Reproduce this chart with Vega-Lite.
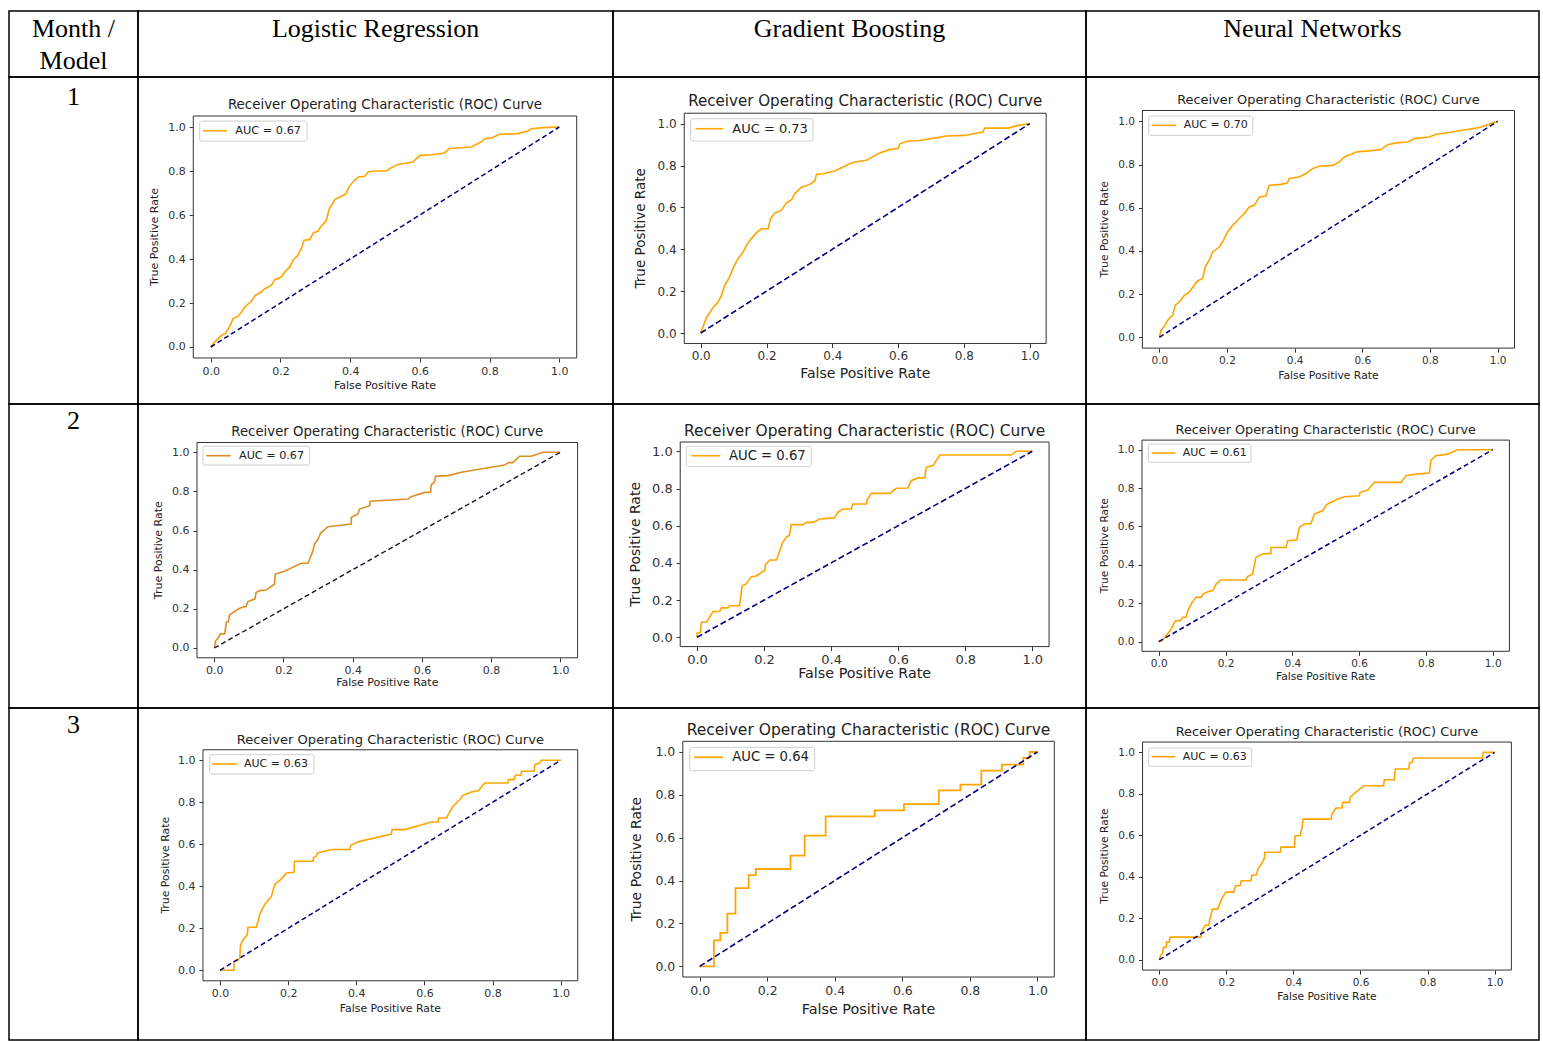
{
"$schema": "https://vega.github.io/schema/vega-lite/v6.json",
"background": "white",
"padding": {"left": 8, "top": 10, "right": 0, "bottom": 0},
"columns": 4,
"spacing": 0,
"bounds": "flush",
"align": "each",
"datasets": {"diag": [{"fpr": 0, "tpr": 0}, {"fpr": 1, "tpr": 1}]},
"config": {
  "view": {"stroke": "#000", "strokeWidth": 1.5},
  "concat": {"spacing": 0},
  "axis": {"labelFont": "DejaVu Sans", "labelColor": "#333", "tickColor": "#333", "domain": false, "grid": false, "tickSize": 4, "labelPadding": 3, "labelFlush": false, "labelOverlap": false, "labelBound": false, "tickWidth": 1},
  "text": {"font": "DejaVu Sans", "color": "#222"}
},
"concat": [
  {"width": 129, "height": 66, "data": {"values": [{"header": "Month /\nModel"}]},
   "mark": {"type": "text", "font": "Liberation Serif", "fontSize": 26, "lineBreak": "\n", "lineHeight": 32, "align": "center", "baseline": "alphabetic", "color": "#000"},
   "encoding": {"text": {"field": "header"}, "x": {"datum": 0.5, "type": "quantitative", "scale": {"domain": [0, 1]}, "axis": null}, "y": {"datum": 0.606, "type": "quantitative", "scale": {"domain": [0, 1]}, "axis": null}}},
  {"width": 475, "height": 66, "data": {"values": [{"header": "Logistic Regression"}]},
   "mark": {"type": "text", "font": "Liberation Serif", "fontSize": 26, "align": "center", "baseline": "alphabetic", "color": "#000"},
   "encoding": {"text": {"field": "header"}, "x": {"datum": 0.5, "type": "quantitative", "scale": {"domain": [0, 1]}, "axis": null}, "y": {"datum": 0.606, "type": "quantitative", "scale": {"domain": [0, 1]}, "axis": null}}},
  {"width": 473, "height": 66, "data": {"values": [{"header": "Gradient Boosting"}]},
   "mark": {"type": "text", "font": "Liberation Serif", "fontSize": 26, "align": "center", "baseline": "alphabetic", "color": "#000"},
   "encoding": {"text": {"field": "header"}, "x": {"datum": 0.5, "type": "quantitative", "scale": {"domain": [0, 1]}, "axis": null}, "y": {"datum": 0.606, "type": "quantitative", "scale": {"domain": [0, 1]}, "axis": null}}},
  {"width": 453, "height": 66, "data": {"values": [{"header": "Neural Networks"}]},
   "mark": {"type": "text", "font": "Liberation Serif", "fontSize": 26, "align": "center", "baseline": "alphabetic", "color": "#000"},
   "encoding": {"text": {"field": "header"}, "x": {"datum": 0.5, "type": "quantitative", "scale": {"domain": [0, 1]}, "axis": null}, "y": {"datum": 0.606, "type": "quantitative", "scale": {"domain": [0, 1]}, "axis": null}}},

  {"width": 129, "height": 327, "data": {"values": [{"month": "1"}]},
   "mark": {"type": "text", "font": "Liberation Serif", "fontSize": 26, "align": "center", "baseline": "alphabetic", "color": "#000"},
   "encoding": {"text": {"field": "month"}, "x": {"datum": 0.5, "type": "quantitative", "scale": {"domain": [0, 1]}, "axis": null}, "y": {"datum": 0.914, "type": "quantitative", "scale": {"domain": [0, 1]}, "axis": null}}},
  {"width": 475, "height": 327, "data": {"values": [{"month": 1, "model": "Logistic Regression", "auc": "AUC = 0.67"}]},
   "layer": [
    {"mark": {"type": "rect", "fill": "white", "stroke": "#333", "strokeWidth": 1},
     "encoding": {"x": {"datum": -0.05, "type": "quantitative", "scale": {"domain": [-0.2086, 1.1541], "nice": false, "zero": false}}, "x2": {"datum": 1.05},
                  "y": {"datum": -0.05, "type": "quantitative", "scale": {"domain": [-0.2591, 1.2273], "nice": false, "zero": false}}, "y2": {"datum": 1.05}}},
    {"data": {"values": [{"fpr":0,"tpr":0},{"fpr":0.007,"tpr":0.015},{"fpr":0.016,"tpr":0.03},{"fpr":0.031,"tpr":0.053},{"fpr":0.042,"tpr":0.061},{"fpr":0.054,"tpr":0.091},{"fpr":0.064,"tpr":0.129},{"fpr":0.078,"tpr":0.139},{"fpr":0.088,"tpr":0.159},{"fpr":0.098,"tpr":0.182},{"fpr":0.117,"tpr":0.209},{"fpr":0.128,"tpr":0.235},{"fpr":0.145,"tpr":0.25},{"fpr":0.155,"tpr":0.265},{"fpr":0.174,"tpr":0.28},{"fpr":0.184,"tpr":0.306},{"fpr":0.203,"tpr":0.318},{"fpr":0.212,"tpr":0.341},{"fpr":0.227,"tpr":0.364},{"fpr":0.237,"tpr":0.397},{"fpr":0.25,"tpr":0.417},{"fpr":0.26,"tpr":0.447},{"fpr":0.268,"tpr":0.485},{"fpr":0.284,"tpr":0.488},{"fpr":0.294,"tpr":0.518},{"fpr":0.308,"tpr":0.527},{"fpr":0.315,"tpr":0.545},{"fpr":0.332,"tpr":0.576},{"fpr":0.339,"tpr":0.624},{"fpr":0.356,"tpr":0.67},{"fpr":0.375,"tpr":0.685},{"fpr":0.389,"tpr":0.697},{"fpr":0.396,"tpr":0.727},{"fpr":0.408,"tpr":0.75},{"fpr":0.423,"tpr":0.773},{"fpr":0.442,"tpr":0.776},{"fpr":0.451,"tpr":0.795},{"fpr":0.466,"tpr":0.8},{"fpr":0.504,"tpr":0.8},{"fpr":0.518,"tpr":0.815},{"fpr":0.537,"tpr":0.83},{"fpr":0.58,"tpr":0.841},{"fpr":0.599,"tpr":0.87},{"fpr":0.633,"tpr":0.874},{"fpr":0.671,"tpr":0.882},{"fpr":0.685,"tpr":0.902},{"fpr":0.748,"tpr":0.909},{"fpr":0.776,"tpr":0.932},{"fpr":0.786,"tpr":0.947},{"fpr":0.805,"tpr":0.95},{"fpr":0.829,"tpr":0.967},{"fpr":0.881,"tpr":0.97},{"fpr":0.91,"tpr":0.982},{"fpr":0.92,"tpr":0.992},{"fpr":0.954,"tpr":0.997},{"fpr":1,"tpr":1}]},
     "mark": {"type": "line", "color": "#FFA500", "strokeWidth": 1.6},
     "encoding": {"x": {"field": "fpr", "type": "quantitative", "axis": {"values": [0, 0.2, 0.4, 0.6, 0.8, 1], "format": ".1f", "offset": -46, "labelFontSize": 11, "title": null}}, "y": {"field": "tpr", "type": "quantitative", "axis": {"values": [0, 0.2, 0.4, 0.6, 0.8, 1], "format": ".1f", "offset": -55.3, "labelFontSize": 11, "labelPadding": 4, "title": null}}, "order": {"value": null}}},
    {"data": {"name": "diag"}, "mark": {"type": "line", "color": "#000080", "strokeWidth": 1.5, "strokeDash": [5, 3]},
     "encoding": {"x": {"field": "fpr", "type": "quantitative"}, "y": {"field": "tpr", "type": "quantitative"}}},
    {"mark": {"type": "rect", "fill": "white", "stroke": "#cfcfcf", "strokeWidth": 1, "cornerRadius": 2},
     "encoding": {"x": {"datum": -0.0316}, "x2": {"datum": 0.2763}, "y": {"datum": 1.027}, "y2": {"datum": 0.936}}},
    {"mark": {"type": "rule", "color": "#FFA500", "strokeWidth": 1.6},
     "encoding": {"x": {"datum": -0.0221}, "x2": {"datum": 0.0468}, "y": {"datum": 0.983}}},
    {"mark": {"type": "text", "align": "left", "baseline": "middle", "fontSize": 11.3},
     "encoding": {"text": {"field": "auc"}, "x": {"datum": 0.0706}, "y": {"datum": 0.983}}},
    {"mark": {"type": "text", "align": "center", "baseline": "middle", "fontSize": 13.4},
     "encoding": {"text": {"value": "Receiver Operating Characteristic (ROC) Curve"}, "x": {"datum": 0.5}, "y": {"datum": 1.1}}},
    {"mark": {"type": "text", "align": "center", "baseline": "middle", "fontSize": 11},
     "encoding": {"text": {"value": "False Positive Rate"}, "x": {"datum": 0.5}, "y": {"datum": -0.177}}},
    {"mark": {"type": "text", "align": "center", "baseline": "middle", "angle": 270, "fontSize": 11},
     "encoding": {"text": {"value": "True Positive Rate"}, "x": {"datum": -0.161}, "y": {"datum": 0.5}}}
   ]},
  {"width": 473, "height": 327, "data": {"values": [{"month": 1, "model": "Gradient Boosting", "auc": "AUC = 0.73"}]},
   "layer": [
    {"mark": {"type": "rect", "fill": "white", "stroke": "#333", "strokeWidth": 1},
     "encoding": {"x": {"datum": -0.05, "type": "quantitative", "scale": {"domain": [-0.2666, 1.1711], "nice": false, "zero": false}}, "x2": {"datum": 1.05},
                  "y": {"datum": -0.05, "type": "quantitative", "scale": {"domain": [-0.3392, 1.2231], "nice": false, "zero": false}}, "y2": {"datum": 1.05}}},
    {"data": {"values": [{"fpr":0,"tpr":0},{"fpr":0.007,"tpr":0.029},{"fpr":0.017,"tpr":0.073},{"fpr":0.029,"tpr":0.1},{"fpr":0.037,"tpr":0.121},{"fpr":0.053,"tpr":0.148},{"fpr":0.063,"tpr":0.18},{"fpr":0.073,"tpr":0.228},{"fpr":0.088,"tpr":0.268},{"fpr":0.1,"tpr":0.315},{"fpr":0.113,"tpr":0.355},{"fpr":0.129,"tpr":0.387},{"fpr":0.139,"tpr":0.419},{"fpr":0.154,"tpr":0.451},{"fpr":0.169,"tpr":0.478},{"fpr":0.185,"tpr":0.498},{"fpr":0.205,"tpr":0.498},{"fpr":0.212,"tpr":0.546},{"fpr":0.225,"tpr":0.573},{"fpr":0.245,"tpr":0.586},{"fpr":0.26,"tpr":0.621},{"fpr":0.276,"tpr":0.637},{"fpr":0.286,"tpr":0.666},{"fpr":0.306,"tpr":0.697},{"fpr":0.331,"tpr":0.71},{"fpr":0.347,"tpr":0.726},{"fpr":0.352,"tpr":0.758},{"fpr":0.372,"tpr":0.761},{"fpr":0.407,"tpr":0.774},{"fpr":0.433,"tpr":0.793},{"fpr":0.453,"tpr":0.809},{"fpr":0.468,"tpr":0.817},{"fpr":0.504,"tpr":0.825},{"fpr":0.524,"tpr":0.844},{"fpr":0.544,"tpr":0.86},{"fpr":0.574,"tpr":0.876},{"fpr":0.6,"tpr":0.881},{"fpr":0.605,"tpr":0.904},{"fpr":0.63,"tpr":0.917},{"fpr":0.666,"tpr":0.92},{"fpr":0.706,"tpr":0.93},{"fpr":0.747,"tpr":0.941},{"fpr":0.802,"tpr":0.944},{"fpr":0.858,"tpr":0.96},{"fpr":0.863,"tpr":0.979},{"fpr":0.934,"tpr":0.979},{"fpr":0.965,"tpr":0.992},{"fpr":1,"tpr":1}]},
     "mark": {"type": "line", "color": "#FFA500", "strokeWidth": 1.6},
     "encoding": {"x": {"field": "fpr", "type": "quantitative", "axis": {"values": [0, 0.2, 0.4, 0.6, 0.8, 1], "format": ".1f", "offset": -60.5, "labelFontSize": 12, "title": null}}, "y": {"field": "tpr", "type": "quantitative", "axis": {"values": [0, 0.2, 0.4, 0.6, 0.8, 1], "format": ".1f", "offset": -71.2, "labelFontSize": 12, "labelPadding": 4, "title": null}}, "order": {"value": null}}},
    {"data": {"name": "diag"}, "mark": {"type": "line", "color": "#000080", "strokeWidth": 1.6, "strokeDash": [6, 3]},
     "encoding": {"x": {"field": "fpr", "type": "quantitative"}, "y": {"field": "tpr", "type": "quantitative"}}},
    {"mark": {"type": "rect", "fill": "white", "stroke": "#cfcfcf", "strokeWidth": 1, "cornerRadius": 2},
     "encoding": {"x": {"datum": -0.0304}, "x2": {"datum": 0.3413}, "y": {"datum": 1.0239}, "y2": {"datum": 0.9173}}},
    {"mark": {"type": "rule", "color": "#FFA500", "strokeWidth": 1.6},
     "encoding": {"x": {"datum": -0.0152}, "x2": {"datum": 0.0678}, "y": {"datum": 0.9761}}},
    {"mark": {"type": "text", "align": "left", "baseline": "middle", "fontSize": 13},
     "encoding": {"text": {"field": "auc"}, "x": {"datum": 0.096}, "y": {"datum": 0.9761}}},
    {"mark": {"type": "text", "align": "center", "baseline": "middle", "fontSize": 15.1},
     "encoding": {"text": {"value": "Receiver Operating Characteristic (ROC) Curve"}, "x": {"datum": 0.5}, "y": {"datum": 1.1085}}},
    {"mark": {"type": "text", "align": "center", "baseline": "middle", "fontSize": 14},
     "encoding": {"text": {"value": "False Positive Rate"}, "x": {"datum": 0.5}, "y": {"datum": -0.1945}}},
    {"mark": {"type": "text", "align": "center", "baseline": "middle", "angle": 270, "fontSize": 13.5},
     "encoding": {"text": {"value": "True Positive Rate"}, "x": {"datum": -0.1824}, "y": {"datum": 0.5}}}
   ]},
  {"width": 453, "height": 327, "data": {"values": [{"month": 1, "model": "Neural Networks", "auc": "AUC = 0.70"}]},
   "layer": [
    {"mark": {"type": "rect", "fill": "white", "stroke": "#333", "strokeWidth": 1},
     "encoding": {"x": {"datum": -0.05, "type": "quantitative", "scale": {"domain": [-0.2167, 1.1224], "nice": false, "zero": false}}, "x2": {"datum": 1.05},
                  "y": {"datum": -0.05, "type": "quantitative", "scale": {"domain": [-0.3088, 1.2051], "nice": false, "zero": false}}, "y2": {"datum": 1.05}}},
    {"data": {"values": [{"fpr":0,"tpr":0},{"fpr":0.005,"tpr":0.032},{"fpr":0.015,"tpr":0.051},{"fpr":0.025,"tpr":0.079},{"fpr":0.039,"tpr":0.102},{"fpr":0.047,"tpr":0.148},{"fpr":0.059,"tpr":0.164},{"fpr":0.074,"tpr":0.194},{"fpr":0.089,"tpr":0.21},{"fpr":0.103,"tpr":0.241},{"fpr":0.113,"tpr":0.261},{"fpr":0.128,"tpr":0.272},{"fpr":0.136,"tpr":0.326},{"fpr":0.148,"tpr":0.36},{"fpr":0.158,"tpr":0.395},{"fpr":0.177,"tpr":0.418},{"fpr":0.187,"tpr":0.441},{"fpr":0.202,"tpr":0.488},{"fpr":0.217,"tpr":0.519},{"fpr":0.236,"tpr":0.549},{"fpr":0.251,"tpr":0.573},{"fpr":0.266,"tpr":0.603},{"fpr":0.281,"tpr":0.611},{"fpr":0.296,"tpr":0.65},{"fpr":0.315,"tpr":0.654},{"fpr":0.325,"tpr":0.704},{"fpr":0.36,"tpr":0.708},{"fpr":0.379,"tpr":0.715},{"fpr":0.384,"tpr":0.735},{"fpr":0.414,"tpr":0.742},{"fpr":0.433,"tpr":0.758},{"fpr":0.453,"tpr":0.781},{"fpr":0.473,"tpr":0.792},{"fpr":0.512,"tpr":0.796},{"fpr":0.532,"tpr":0.812},{"fpr":0.547,"tpr":0.835},{"fpr":0.567,"tpr":0.847},{"fpr":0.581,"tpr":0.858},{"fpr":0.621,"tpr":0.863},{"fpr":0.655,"tpr":0.869},{"fpr":0.675,"tpr":0.892},{"fpr":0.7,"tpr":0.9},{"fpr":0.734,"tpr":0.904},{"fpr":0.754,"tpr":0.92},{"fpr":0.798,"tpr":0.927},{"fpr":0.818,"tpr":0.94},{"fpr":0.847,"tpr":0.946},{"fpr":0.877,"tpr":0.954},{"fpr":0.906,"tpr":0.961},{"fpr":0.946,"tpr":0.971},{"fpr":0.98,"tpr":0.989},{"fpr":1,"tpr":1}]},
     "mark": {"type": "line", "color": "#FFA500", "strokeWidth": 1.6},
     "encoding": {"x": {"field": "fpr", "type": "quantitative", "axis": {"values": [0, 0.2, 0.4, 0.6, 0.8, 1], "format": ".1f", "offset": -55.9, "labelFontSize": 10.5, "title": null}}, "y": {"field": "tpr", "type": "quantitative", "axis": {"values": [0, 0.2, 0.4, 0.6, 0.8, 1], "format": ".1f", "offset": -56.4, "labelFontSize": 10.5, "labelPadding": 4, "title": null}}, "order": {"value": null}}},
    {"data": {"name": "diag"}, "mark": {"type": "line", "color": "#000080", "strokeWidth": 1.5, "strokeDash": [5, 3]},
     "encoding": {"x": {"field": "fpr", "type": "quantitative"}, "y": {"field": "tpr", "type": "quantitative"}}},
    {"mark": {"type": "rect", "fill": "white", "stroke": "#cfcfcf", "strokeWidth": 1, "cornerRadius": 2},
     "encoding": {"x": {"datum": -0.0313}, "x2": {"datum": 0.2761}, "y": {"datum": 1.0245}, "y2": {"datum": 0.9352}}},
    {"mark": {"type": "rule", "color": "#FFA500", "strokeWidth": 1.6},
     "encoding": {"x": {"datum": -0.0225}, "x2": {"datum": 0.0494}, "y": {"datum": 0.9815}}},
    {"mark": {"type": "text", "align": "left", "baseline": "middle", "fontSize": 11},
     "encoding": {"text": {"field": "auc"}, "x": {"datum": 0.0721}, "y": {"datum": 0.9815}}},
    {"mark": {"type": "text", "align": "center", "baseline": "middle", "fontSize": 12.9},
     "encoding": {"text": {"value": "Receiver Operating Characteristic (ROC) Curve"}, "x": {"datum": 0.5}, "y": {"datum": 1.1}}},
    {"mark": {"type": "text", "align": "center", "baseline": "middle", "fontSize": 10.8},
     "encoding": {"text": {"value": "False Positive Rate"}, "x": {"datum": 0.5}, "y": {"datum": -0.1792}}},
    {"mark": {"type": "text", "align": "center", "baseline": "middle", "angle": 270, "fontSize": 10.8},
     "encoding": {"text": {"value": "True Positive Rate"}, "x": {"datum": -0.1605}, "y": {"datum": 0.5}}}
   ]},

  {"width": 129, "height": 304, "data": {"values": [{"month": "2"}]},
   "mark": {"type": "text", "font": "Liberation Serif", "fontSize": 26, "align": "center", "baseline": "alphabetic", "color": "#000"},
   "encoding": {"text": {"field": "month"}, "x": {"datum": 0.5, "type": "quantitative", "scale": {"domain": [0, 1]}, "axis": null}, "y": {"datum": 0.918, "type": "quantitative", "scale": {"domain": [0, 1]}, "axis": null}}},
  {"width": 475, "height": 304, "data": {"values": [{"month": 2, "model": "Logistic Regression", "auc": "AUC = 0.67"}]},
   "layer": [
    {"mark": {"type": "rect", "fill": "white", "stroke": "#333", "strokeWidth": 1},
     "encoding": {"x": {"datum": -0.05, "type": "quantitative", "scale": {"domain": [-0.2205, 1.1523], "nice": false, "zero": false}}, "x2": {"datum": 1.05},
                  "y": {"datum": -0.05, "type": "quantitative", "scale": {"domain": [-0.3066, 1.2468], "nice": false, "zero": false}}, "y2": {"datum": 1.05}}},
    {"data": {"values": [{"fpr":0,"tpr":0},{"fpr":0.004,"tpr":0.037},{"fpr":0.011,"tpr":0.051},{"fpr":0.018,"tpr":0.072},{"fpr":0.03,"tpr":0.072},{"fpr":0.035,"tpr":0.131},{"fpr":0.041,"tpr":0.136},{"fpr":0.044,"tpr":0.169},{"fpr":0.059,"tpr":0.187},{"fpr":0.073,"tpr":0.203},{"fpr":0.092,"tpr":0.213},{"fpr":0.097,"tpr":0.237},{"fpr":0.117,"tpr":0.25},{"fpr":0.121,"tpr":0.284},{"fpr":0.131,"tpr":0.293},{"fpr":0.15,"tpr":0.296},{"fpr":0.174,"tpr":0.327},{"fpr":0.176,"tpr":0.378},{"fpr":0.203,"tpr":0.392},{"fpr":0.251,"tpr":0.433},{"fpr":0.271,"tpr":0.433},{"fpr":0.285,"tpr":0.497},{"fpr":0.29,"tpr":0.532},{"fpr":0.3,"tpr":0.557},{"fpr":0.307,"tpr":0.586},{"fpr":0.328,"tpr":0.62},{"fpr":0.396,"tpr":0.634},{"fpr":0.396,"tpr":0.668},{"fpr":0.415,"tpr":0.685},{"fpr":0.42,"tpr":0.71},{"fpr":0.449,"tpr":0.727},{"fpr":0.451,"tpr":0.75},{"fpr":0.56,"tpr":0.761},{"fpr":0.569,"tpr":0.773},{"fpr":0.608,"tpr":0.795},{"fpr":0.625,"tpr":0.795},{"fpr":0.627,"tpr":0.833},{"fpr":0.637,"tpr":0.85},{"fpr":0.639,"tpr":0.877},{"fpr":0.675,"tpr":0.881},{"fpr":0.714,"tpr":0.898},{"fpr":0.839,"tpr":0.935},{"fpr":0.851,"tpr":0.947},{"fpr":0.863,"tpr":0.947},{"fpr":0.882,"tpr":0.98},{"fpr":0.916,"tpr":0.98},{"fpr":0.95,"tpr":1},{"fpr":1,"tpr":1}]},
     "mark": {"type": "line", "color": "#DE8E22", "strokeWidth": 1.6},
     "encoding": {"x": {"field": "fpr", "type": "quantitative", "axis": {"values": [0, 0.2, 0.4, 0.6, 0.8, 1], "format": ".1f", "offset": -50.2, "labelFontSize": 11, "title": null}}, "y": {"field": "tpr", "type": "quantitative", "axis": {"values": [0, 0.2, 0.4, 0.6, 0.8, 1], "format": ".1f", "offset": -59, "labelFontSize": 11, "labelPadding": 4, "title": null}}, "order": {"value": null}}},
    {"data": {"name": "diag"}, "mark": {"type": "line", "color": "#15152e", "strokeWidth": 1.4, "strokeDash": [5, 3]},
     "encoding": {"x": {"field": "fpr", "type": "quantitative"}, "y": {"field": "tpr", "type": "quantitative"}}},
    {"mark": {"type": "rect", "fill": "white", "stroke": "#cfcfcf", "strokeWidth": 1, "cornerRadius": 2},
     "encoding": {"x": {"datum": -0.0327}, "x2": {"datum": 0.2757}, "y": {"datum": 1.0307}, "y2": {"datum": 0.9351}}},
    {"mark": {"type": "rule", "color": "#DE8E22", "strokeWidth": 1.6},
     "encoding": {"x": {"datum": -0.0231}, "x2": {"datum": 0.0474}, "y": {"datum": 0.9826}}},
    {"mark": {"type": "text", "align": "left", "baseline": "middle", "fontSize": 11.2},
     "encoding": {"text": {"field": "auc"}, "x": {"datum": 0.0714}, "y": {"datum": 0.9826}}},
    {"mark": {"type": "text", "align": "center", "baseline": "middle", "fontSize": 13.3},
     "encoding": {"text": {"value": "Receiver Operating Characteristic (ROC) Curve"}, "x": {"datum": 0.5}, "y": {"datum": 1.1022}}},
    {"mark": {"type": "text", "align": "center", "baseline": "middle", "fontSize": 11},
     "encoding": {"text": {"value": "False Positive Rate"}, "x": {"datum": 0.5}, "y": {"datum": -0.1804}}},
    {"mark": {"type": "text", "align": "center", "baseline": "middle", "angle": 270, "fontSize": 11},
     "encoding": {"text": {"value": "True Positive Rate"}, "x": {"datum": -0.1607}, "y": {"datum": 0.5}}}
   ]},
  {"width": 473, "height": 304, "data": {"values": [{"month": 2, "model": "Gradient Boosting", "auc": "AUC = 0.67"}]},
   "layer": [
    {"mark": {"type": "rect", "fill": "white", "stroke": "#333", "strokeWidth": 1},
     "encoding": {"x": {"datum": -0.05, "type": "quantitative", "scale": {"domain": [-0.2505, 1.1602], "nice": false, "zero": false}}, "x2": {"datum": 1.05},
                  "y": {"datum": -0.05, "type": "quantitative", "scale": {"domain": [-0.3801, 1.2543], "nice": false, "zero": false}}, "y2": {"datum": 1.05}}},
    {"data": {"values": [{"fpr":0,"tpr":0},{"fpr":0,"tpr":0.022},{"fpr":0.01,"tpr":0.027},{"fpr":0.013,"tpr":0.081},{"fpr":0.028,"tpr":0.081},{"fpr":0.048,"tpr":0.138},{"fpr":0.068,"tpr":0.14},{"fpr":0.073,"tpr":0.158},{"fpr":0.092,"tpr":0.158},{"fpr":0.097,"tpr":0.17},{"fpr":0.127,"tpr":0.17},{"fpr":0.132,"tpr":0.242},{"fpr":0.135,"tpr":0.278},{"fpr":0.147,"tpr":0.287},{"fpr":0.162,"tpr":0.326},{"fpr":0.177,"tpr":0.33},{"fpr":0.192,"tpr":0.349},{"fpr":0.202,"tpr":0.358},{"fpr":0.204,"tpr":0.389},{"fpr":0.217,"tpr":0.416},{"fpr":0.237,"tpr":0.416},{"fpr":0.247,"tpr":0.466},{"fpr":0.256,"tpr":0.511},{"fpr":0.266,"tpr":0.538},{"fpr":0.276,"tpr":0.55},{"fpr":0.281,"tpr":0.606},{"fpr":0.316,"tpr":0.606},{"fpr":0.326,"tpr":0.618},{"fpr":0.346,"tpr":0.618},{"fpr":0.366,"tpr":0.636},{"fpr":0.41,"tpr":0.642},{"fpr":0.42,"tpr":0.672},{"fpr":0.435,"tpr":0.69},{"fpr":0.46,"tpr":0.69},{"fpr":0.465,"tpr":0.717},{"fpr":0.505,"tpr":0.717},{"fpr":0.507,"tpr":0.738},{"fpr":0.52,"tpr":0.774},{"fpr":0.575,"tpr":0.774},{"fpr":0.594,"tpr":0.801},{"fpr":0.629,"tpr":0.803},{"fpr":0.639,"tpr":0.842},{"fpr":0.659,"tpr":0.857},{"fpr":0.679,"tpr":0.857},{"fpr":0.684,"tpr":0.914},{"fpr":0.704,"tpr":0.923},{"fpr":0.724,"tpr":0.98},{"fpr":0.937,"tpr":0.98},{"fpr":0.952,"tpr":1},{"fpr":1,"tpr":1}]},
     "mark": {"type": "line", "color": "#FFA500", "strokeWidth": 1.6},
     "encoding": {"x": {"field": "fpr", "type": "quantitative", "axis": {"values": [0, 0.2, 0.4, 0.6, 0.8, 1], "format": ".1f", "offset": -61.4, "labelFontSize": 13, "title": null}}, "y": {"field": "tpr", "type": "quantitative", "axis": {"values": [0, 0.2, 0.4, 0.6, 0.8, 1], "format": ".1f", "offset": -67.2, "labelFontSize": 13, "labelPadding": 4, "title": null}}, "order": {"value": null}}},
    {"data": {"name": "diag"}, "mark": {"type": "line", "color": "#000080", "strokeWidth": 1.6, "strokeDash": [6, 3]},
     "encoding": {"x": {"field": "fpr", "type": "quantitative"}, "y": {"field": "tpr", "type": "quantitative"}}},
    {"mark": {"type": "rect", "fill": "white", "stroke": "#cfcfcf", "strokeWidth": 1, "cornerRadius": 2},
     "encoding": {"x": {"datum": -0.0319}, "x2": {"datum": 0.3409}, "y": {"datum": 1.0269}, "y2": {"datum": 0.9172}}},
    {"mark": {"type": "rule", "color": "#FFA500", "strokeWidth": 1.6},
     "encoding": {"x": {"datum": -0.017}, "x2": {"datum": 0.0695}, "y": {"datum": 0.9763}}},
    {"mark": {"type": "text", "align": "left", "baseline": "middle", "fontSize": 13.2},
     "encoding": {"text": {"field": "auc"}, "x": {"datum": 0.0954}, "y": {"datum": 0.9763}}},
    {"mark": {"type": "text", "align": "center", "baseline": "middle", "fontSize": 15.4},
     "encoding": {"text": {"value": "Receiver Operating Characteristic (ROC) Curve"}, "x": {"datum": 0.5}, "y": {"datum": 1.1108}}},
    {"mark": {"type": "text", "align": "center", "baseline": "middle", "fontSize": 14.3},
     "encoding": {"text": {"value": "False Positive Rate"}, "x": {"datum": 0.5}, "y": {"datum": -0.1973}}},
    {"mark": {"type": "text", "align": "center", "baseline": "middle", "angle": 270, "fontSize": 14},
     "encoding": {"text": {"value": "True Positive Rate"}, "x": {"datum": -0.1828}, "y": {"datum": 0.5}}}
   ]},
  {"width": 453, "height": 304, "data": {"values": [{"month": 2, "model": "Neural Networks", "auc": "AUC = 0.61"}]},
   "layer": [
    {"mark": {"type": "rect", "fill": "white", "stroke": "#333", "strokeWidth": 1},
     "encoding": {"x": {"datum": -0.05, "type": "quantitative", "scale": {"domain": [-0.2177, 1.1386], "nice": false, "zero": false}}, "x2": {"datum": 1.05},
                  "y": {"datum": -0.05, "type": "quantitative", "scale": {"domain": [-0.3453, 1.238], "nice": false, "zero": false}}, "y2": {"datum": 1.05}}},
    {"data": {"values": [{"fpr":0,"tpr":0},{"fpr":0.01,"tpr":0.005},{"fpr":0.022,"tpr":0.031},{"fpr":0.034,"tpr":0.057},{"fpr":0.042,"tpr":0.083},{"fpr":0.05,"tpr":0.109},{"fpr":0.065,"tpr":0.109},{"fpr":0.072,"tpr":0.127},{"fpr":0.082,"tpr":0.127},{"fpr":0.087,"tpr":0.161},{"fpr":0.1,"tpr":0.205},{"fpr":0.112,"tpr":0.231},{"fpr":0.127,"tpr":0.231},{"fpr":0.132,"tpr":0.248},{"fpr":0.147,"tpr":0.26},{"fpr":0.162,"tpr":0.266},{"fpr":0.172,"tpr":0.3},{"fpr":0.185,"tpr":0.321},{"fpr":0.261,"tpr":0.321},{"fpr":0.266,"tpr":0.339},{"fpr":0.281,"tpr":0.352},{"fpr":0.291,"tpr":0.439},{"fpr":0.311,"tpr":0.457},{"fpr":0.336,"tpr":0.46},{"fpr":0.336,"tpr":0.491},{"fpr":0.381,"tpr":0.491},{"fpr":0.386,"tpr":0.526},{"fpr":0.413,"tpr":0.53},{"fpr":0.421,"tpr":0.595},{"fpr":0.436,"tpr":0.613},{"fpr":0.456,"tpr":0.616},{"fpr":0.466,"tpr":0.665},{"fpr":0.491,"tpr":0.682},{"fpr":0.501,"tpr":0.712},{"fpr":0.506,"tpr":0.717},{"fpr":0.536,"tpr":0.743},{"fpr":0.556,"tpr":0.755},{"fpr":0.601,"tpr":0.76},{"fpr":0.603,"tpr":0.778},{"fpr":0.626,"tpr":0.79},{"fpr":0.641,"tpr":0.821},{"fpr":0.646,"tpr":0.83},{"fpr":0.726,"tpr":0.83},{"fpr":0.741,"tpr":0.865},{"fpr":0.771,"tpr":0.873},{"fpr":0.81,"tpr":0.878},{"fpr":0.815,"tpr":0.946},{"fpr":0.83,"tpr":0.969},{"fpr":0.865,"tpr":0.977},{"fpr":0.895,"tpr":1},{"fpr":1,"tpr":1}]},
     "mark": {"type": "line", "color": "#FFA500", "strokeWidth": 1.6},
     "encoding": {"x": {"field": "fpr", "type": "quantitative", "axis": {"values": [0, 0.2, 0.4, 0.6, 0.8, 1], "format": ".1f", "offset": -56.7, "labelFontSize": 10.5, "title": null}}, "y": {"field": "tpr", "type": "quantitative", "axis": {"values": [0, 0.2, 0.4, 0.6, 0.8, 1], "format": ".1f", "offset": -56, "labelFontSize": 10.5, "labelPadding": 4, "title": null}}, "order": {"value": null}}},
    {"data": {"name": "diag"}, "mark": {"type": "line", "color": "#000080", "strokeWidth": 1.5, "strokeDash": [5, 3]},
     "encoding": {"x": {"field": "fpr", "type": "quantitative"}, "y": {"field": "tpr", "type": "quantitative"}}},
    {"mark": {"type": "rect", "fill": "white", "stroke": "#cfcfcf", "strokeWidth": 1, "cornerRadius": 2},
     "encoding": {"x": {"datum": -0.0311}, "x2": {"datum": 0.2763}, "y": {"datum": 1.0297}, "y2": {"datum": 0.9344}}},
    {"mark": {"type": "rule", "color": "#FFA500", "strokeWidth": 1.6},
     "encoding": {"x": {"datum": -0.021}, "x2": {"datum": 0.0497}, "y": {"datum": 0.9828}}},
    {"mark": {"type": "text", "align": "left", "baseline": "middle", "fontSize": 11},
     "encoding": {"text": {"field": "auc"}, "x": {"datum": 0.0719}, "y": {"datum": 0.9828}}},
    {"mark": {"type": "text", "align": "center", "baseline": "middle", "fontSize": 12.8},
     "encoding": {"text": {"value": "Receiver Operating Characteristic (ROC) Curve"}, "x": {"datum": 0.5}, "y": {"datum": 1.1026}}},
    {"mark": {"type": "text", "align": "center", "baseline": "middle", "fontSize": 10.7},
     "encoding": {"text": {"value": "False Positive Rate"}, "x": {"datum": 0.5}, "y": {"datum": -0.1823}}},
    {"mark": {"type": "text", "align": "center", "baseline": "middle", "angle": 270, "fontSize": 10.7},
     "encoding": {"text": {"value": "True Positive Rate"}, "x": {"datum": -0.1608}, "y": {"datum": 0.5}}}
   ]},

  {"width": 129, "height": 332, "data": {"values": [{"month": "3"}]},
   "mark": {"type": "text", "font": "Liberation Serif", "fontSize": 26, "align": "center", "baseline": "alphabetic", "color": "#000"},
   "encoding": {"text": {"field": "month"}, "x": {"datum": 0.5, "type": "quantitative", "scale": {"domain": [0, 1]}, "axis": null}, "y": {"datum": 0.925, "type": "quantitative", "scale": {"domain": [0, 1]}, "axis": null}}},
  {"width": 475, "height": 332, "data": {"values": [{"month": 3, "model": "Logistic Regression", "auc": "AUC = 0.63"}]},
   "layer": [
    {"mark": {"type": "rect", "fill": "white", "stroke": "#333", "strokeWidth": 1},
     "encoding": {"x": {"datum": -0.05, "type": "quantitative", "scale": {"domain": [-0.2407, 1.1535], "nice": false, "zero": false}}, "x2": {"datum": 1.05},
                  "y": {"datum": -0.05, "type": "quantitative", "scale": {"domain": [-0.3319, 1.249], "nice": false, "zero": false}}, "y2": {"datum": 1.05}}},
    {"data": {"values": [{"fpr":0,"tpr":0},{"fpr":0.041,"tpr":0},{"fpr":0.041,"tpr":0.04},{"fpr":0.053,"tpr":0.048},{"fpr":0.058,"tpr":0.059},{"fpr":0.06,"tpr":0.119},{"fpr":0.068,"tpr":0.146},{"fpr":0.08,"tpr":0.17},{"fpr":0.082,"tpr":0.205},{"fpr":0.106,"tpr":0.205},{"fpr":0.112,"tpr":0.233},{"fpr":0.116,"tpr":0.265},{"fpr":0.131,"tpr":0.313},{"fpr":0.151,"tpr":0.352},{"fpr":0.156,"tpr":0.384},{"fpr":0.162,"tpr":0.411},{"fpr":0.178,"tpr":0.432},{"fpr":0.195,"tpr":0.463},{"fpr":0.217,"tpr":0.467},{"fpr":0.219,"tpr":0.519},{"fpr":0.273,"tpr":0.519},{"fpr":0.275,"tpr":0.538},{"fpr":0.283,"tpr":0.543},{"fpr":0.286,"tpr":0.559},{"fpr":0.327,"tpr":0.575},{"fpr":0.381,"tpr":0.575},{"fpr":0.384,"tpr":0.595},{"fpr":0.41,"tpr":0.614},{"fpr":0.503,"tpr":0.649},{"fpr":0.505,"tpr":0.67},{"fpr":0.542,"tpr":0.67},{"fpr":0.62,"tpr":0.706},{"fpr":0.64,"tpr":0.706},{"fpr":0.642,"tpr":0.725},{"fpr":0.664,"tpr":0.725},{"fpr":0.684,"tpr":0.781},{"fpr":0.706,"tpr":0.817},{"fpr":0.713,"tpr":0.833},{"fpr":0.738,"tpr":0.849},{"fpr":0.759,"tpr":0.856},{"fpr":0.777,"tpr":0.892},{"fpr":0.845,"tpr":0.892},{"fpr":0.847,"tpr":0.908},{"fpr":0.863,"tpr":0.908},{"fpr":0.867,"tpr":0.929},{"fpr":0.883,"tpr":0.929},{"fpr":0.885,"tpr":0.948},{"fpr":0.922,"tpr":0.948},{"fpr":0.924,"tpr":0.979},{"fpr":0.938,"tpr":0.987},{"fpr":0.943,"tpr":1},{"fpr":1,"tpr":1}]},
     "mark": {"type": "line", "color": "#FFA500", "strokeWidth": 1.6},
     "encoding": {"x": {"field": "fpr", "type": "quantitative", "axis": {"values": [0, 0.2, 0.4, 0.6, 0.8, 1], "format": ".1f", "offset": -59.2, "labelFontSize": 11, "title": null}}, "y": {"field": "tpr", "type": "quantitative", "axis": {"values": [0, 0.2, 0.4, 0.6, 0.8, 1], "format": ".1f", "offset": -65, "labelFontSize": 11, "labelPadding": 4, "title": null}}, "order": {"value": null}}},
    {"data": {"name": "diag"}, "mark": {"type": "line", "color": "#000080", "strokeWidth": 1.5, "strokeDash": [5, 3]},
     "encoding": {"x": {"field": "fpr", "type": "quantitative"}, "y": {"field": "tpr", "type": "quantitative"}}},
    {"mark": {"type": "rect", "fill": "white", "stroke": "#cfcfcf", "strokeWidth": 1, "cornerRadius": 2},
     "encoding": {"x": {"datum": -0.0302}, "x2": {"datum": 0.2759}, "y": {"datum": 1.0267}, "y2": {"datum": 0.9348}}},
    {"mark": {"type": "rule", "color": "#FFA500", "strokeWidth": 1.6},
     "encoding": {"x": {"datum": -0.0235}, "x2": {"datum": 0.0499}, "y": {"datum": 0.9824}}},
    {"mark": {"type": "text", "align": "left", "baseline": "middle", "fontSize": 11},
     "encoding": {"text": {"field": "auc"}, "x": {"datum": 0.0704}, "y": {"datum": 0.9824}}},
    {"mark": {"type": "text", "align": "center", "baseline": "middle", "fontSize": 13.1},
     "encoding": {"text": {"value": "Receiver Operating Characteristic (ROC) Curve"}, "x": {"datum": 0.5}, "y": {"datum": 1.098}}},
    {"mark": {"type": "text", "align": "center", "baseline": "middle", "fontSize": 10.9},
     "encoding": {"text": {"value": "False Positive Rate"}, "x": {"datum": 0.5}, "y": {"datum": -0.1829}}},
    {"mark": {"type": "text", "align": "center", "baseline": "middle", "angle": 270, "fontSize": 10.9},
     "encoding": {"text": {"value": "True Positive Rate"}, "x": {"datum": -0.1594}, "y": {"datum": 0.5}}}
   ]},
  {"width": 473, "height": 332, "data": {"values": [{"month": 3, "model": "Gradient Boosting", "auc": "AUC = 0.64"}]},
   "layer": [
    {"mark": {"type": "rect", "fill": "white", "stroke": "#333", "strokeWidth": 1},
     "encoding": {"x": {"datum": -0.05, "type": "quantitative", "scale": {"domain": [-0.2567, 1.1439], "nice": false, "zero": false}}, "x2": {"datum": 1.05},
                  "y": {"datum": -0.05, "type": "quantitative", "scale": {"domain": [-0.3439, 1.2053], "nice": false, "zero": false}}, "y2": {"datum": 1.05}}},
    {"data": {"values": [{"fpr":0,"tpr":0},{"fpr":0.042,"tpr":0},{"fpr":0.042,"tpr":0.121},{"fpr":0.061,"tpr":0.121},{"fpr":0.061,"tpr":0.156},{"fpr":0.082,"tpr":0.156},{"fpr":0.082,"tpr":0.246},{"fpr":0.106,"tpr":0.246},{"fpr":0.106,"tpr":0.365},{"fpr":0.145,"tpr":0.365},{"fpr":0.145,"tpr":0.425},{"fpr":0.166,"tpr":0.425},{"fpr":0.166,"tpr":0.454},{"fpr":0.269,"tpr":0.454},{"fpr":0.269,"tpr":0.516},{"fpr":0.311,"tpr":0.516},{"fpr":0.311,"tpr":0.61},{"fpr":0.373,"tpr":0.61},{"fpr":0.373,"tpr":0.7},{"fpr":0.518,"tpr":0.7},{"fpr":0.518,"tpr":0.728},{"fpr":0.605,"tpr":0.728},{"fpr":0.605,"tpr":0.757},{"fpr":0.708,"tpr":0.757},{"fpr":0.708,"tpr":0.821},{"fpr":0.772,"tpr":0.821},{"fpr":0.772,"tpr":0.848},{"fpr":0.834,"tpr":0.848},{"fpr":0.834,"tpr":0.913},{"fpr":0.895,"tpr":0.913},{"fpr":0.895,"tpr":0.941},{"fpr":0.958,"tpr":0.941},{"fpr":0.958,"tpr":0.972},{"fpr":0.977,"tpr":0.972},{"fpr":0.977,"tpr":1},{"fpr":1,"tpr":1}]},
     "mark": {"type": "line", "color": "#FFA500", "strokeWidth": 1.8},
     "encoding": {"x": {"field": "fpr", "type": "quantitative", "axis": {"values": [0, 0.2, 0.4, 0.6, 0.8, 1], "format": ".1f", "offset": -63, "labelFontSize": 12.5, "title": null}}, "y": {"field": "tpr", "type": "quantitative", "axis": {"values": [0, 0.2, 0.4, 0.6, 0.8, 1], "format": ".1f", "offset": -69.8, "labelFontSize": 12.5, "labelPadding": 4, "title": null}}, "order": {"value": null}}},
    {"data": {"name": "diag"}, "mark": {"type": "line", "color": "#000080", "strokeWidth": 1.6, "strokeDash": [6, 3]},
     "encoding": {"x": {"field": "fpr", "type": "quantitative"}, "y": {"field": "tpr", "type": "quantitative"}}},
    {"mark": {"type": "rect", "fill": "white", "stroke": "#cfcfcf", "strokeWidth": 1, "cornerRadius": 2},
     "encoding": {"x": {"datum": -0.0296}, "x2": {"datum": 0.3405}, "y": {"datum": 1.0219}, "y2": {"datum": 0.9127}}},
    {"mark": {"type": "rule", "color": "#FFA500", "strokeWidth": 1.8},
     "encoding": {"x": {"datum": -0.0169}, "x2": {"datum": 0.069}, "y": {"datum": 0.9753}}},
    {"mark": {"type": "text", "align": "left", "baseline": "middle", "fontSize": 13.2},
     "encoding": {"text": {"field": "auc"}, "x": {"datum": 0.0965}, "y": {"datum": 0.9753}}},
    {"mark": {"type": "text", "align": "center", "baseline": "middle", "fontSize": 15.5},
     "encoding": {"text": {"value": "Receiver Operating Characteristic (ROC) Curve"}, "x": {"datum": 0.5}, "y": {"datum": 1.1013}}},
    {"mark": {"type": "text", "align": "center", "baseline": "middle", "fontSize": 14.4},
     "encoding": {"text": {"value": "False Positive Rate"}, "x": {"datum": 0.5}, "y": {"datum": -0.2025}}},
    {"mark": {"type": "text", "align": "center", "baseline": "middle", "angle": 270, "fontSize": 14},
     "encoding": {"text": {"value": "True Positive Rate"}, "x": {"datum": -0.1848}, "y": {"datum": 0.5}}}
   ]},
  {"width": 453, "height": 332, "data": {"values": [{"month": 3, "model": "Neural Networks", "auc": "AUC = 0.63"}]},
   "layer": [
    {"mark": {"type": "rect", "fill": "white", "stroke": "#333", "strokeWidth": 1},
     "encoding": {"x": {"datum": -0.05, "type": "quantitative", "scale": {"domain": [-0.2186, 1.1324], "nice": false, "zero": false}}, "x2": {"datum": 1.05},
                  "y": {"datum": -0.05, "type": "quantitative", "scale": {"domain": [-0.3874, 1.2142], "nice": false, "zero": false}}, "y2": {"datum": 1.05}}},
    {"data": {"values": [{"fpr":0,"tpr":0},{"fpr":0.005,"tpr":0.024},{"fpr":0.01,"tpr":0.032},{"fpr":0.012,"tpr":0.059},{"fpr":0.02,"tpr":0.059},{"fpr":0.022,"tpr":0.085},{"fpr":0.03,"tpr":0.085},{"fpr":0.032,"tpr":0.109},{"fpr":0.124,"tpr":0.109},{"fpr":0.127,"tpr":0.14},{"fpr":0.137,"tpr":0.166},{"fpr":0.147,"tpr":0.166},{"fpr":0.154,"tpr":0.217},{"fpr":0.159,"tpr":0.244},{"fpr":0.174,"tpr":0.244},{"fpr":0.187,"tpr":0.297},{"fpr":0.199,"tpr":0.326},{"fpr":0.222,"tpr":0.326},{"fpr":0.227,"tpr":0.357},{"fpr":0.241,"tpr":0.357},{"fpr":0.244,"tpr":0.381},{"fpr":0.273,"tpr":0.381},{"fpr":0.276,"tpr":0.407},{"fpr":0.29,"tpr":0.41},{"fpr":0.294,"tpr":0.437},{"fpr":0.304,"tpr":0.461},{"fpr":0.313,"tpr":0.487},{"fpr":0.315,"tpr":0.518},{"fpr":0.361,"tpr":0.518},{"fpr":0.363,"tpr":0.543},{"fpr":0.403,"tpr":0.543},{"fpr":0.405,"tpr":0.598},{"fpr":0.42,"tpr":0.598},{"fpr":0.425,"tpr":0.632},{"fpr":0.429,"tpr":0.678},{"fpr":0.512,"tpr":0.678},{"fpr":0.515,"tpr":0.703},{"fpr":0.527,"tpr":0.732},{"fpr":0.545,"tpr":0.732},{"fpr":0.547,"tpr":0.759},{"fpr":0.567,"tpr":0.759},{"fpr":0.57,"tpr":0.785},{"fpr":0.586,"tpr":0.809},{"fpr":0.611,"tpr":0.839},{"fpr":0.669,"tpr":0.839},{"fpr":0.671,"tpr":0.868},{"fpr":0.701,"tpr":0.868},{"fpr":0.704,"tpr":0.92},{"fpr":0.744,"tpr":0.92},{"fpr":0.746,"tpr":0.949},{"fpr":0.755,"tpr":0.953},{"fpr":0.758,"tpr":0.973},{"fpr":0.964,"tpr":0.973},{"fpr":0.966,"tpr":1},{"fpr":1,"tpr":1}]},
     "mark": {"type": "line", "color": "#FFA500", "strokeWidth": 1.6},
     "encoding": {"x": {"field": "fpr", "type": "quantitative", "axis": {"values": [0, 0.2, 0.4, 0.6, 0.8, 1], "format": ".1f", "offset": -69.9, "labelFontSize": 10.5, "title": null}}, "y": {"field": "tpr", "type": "quantitative", "axis": {"values": [0, 0.2, 0.4, 0.6, 0.8, 1], "format": ".1f", "offset": -56.5, "labelFontSize": 10.5, "labelPadding": 4, "title": null}}, "order": {"value": null}}},
    {"data": {"name": "diag"}, "mark": {"type": "line", "color": "#000080", "strokeWidth": 1.5, "strokeDash": [5, 3]},
     "encoding": {"x": {"field": "fpr", "type": "quantitative"}, "y": {"field": "tpr", "type": "quantitative"}}},
    {"mark": {"type": "rect", "fill": "white", "stroke": "#cfcfcf", "strokeWidth": 1, "cornerRadius": 2},
     "encoding": {"x": {"datum": -0.0316}, "x2": {"datum": 0.2756}, "y": {"datum": 1.0212}, "y2": {"datum": 0.9329}}},
    {"mark": {"type": "rule", "color": "#FFA500", "strokeWidth": 1.6},
     "encoding": {"x": {"datum": -0.0227}, "x2": {"datum": 0.0477}, "y": {"datum": 0.9793}}},
    {"mark": {"type": "text", "align": "left", "baseline": "middle", "fontSize": 11},
     "encoding": {"text": {"field": "auc"}, "x": {"datum": 0.0698}, "y": {"datum": 0.9793}}},
    {"mark": {"type": "text", "align": "center", "baseline": "middle", "fontSize": 12.9},
     "encoding": {"text": {"value": "Receiver Operating Characteristic (ROC) Curve"}, "x": {"datum": 0.5}, "y": {"datum": 1.0984}}},
    {"mark": {"type": "text", "align": "center", "baseline": "middle", "fontSize": 10.7},
     "encoding": {"text": {"value": "False Positive Rate"}, "x": {"datum": 0.5}, "y": {"datum": -0.1785}}},
    {"mark": {"type": "text", "align": "center", "baseline": "middle", "angle": 270, "fontSize": 10.7},
     "encoding": {"text": {"value": "True Positive Rate"}, "x": {"datum": -0.162}, "y": {"datum": 0.5}}}
   ]}
]
}
